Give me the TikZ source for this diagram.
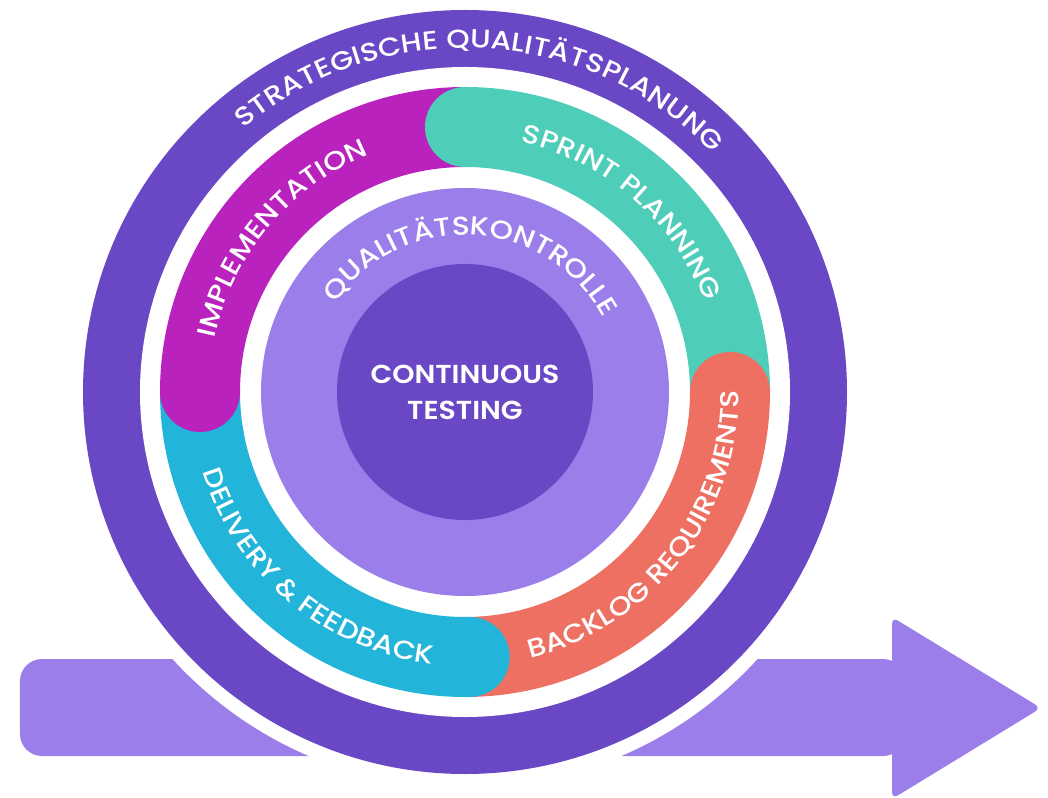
\documentclass[tikz,border=0pt]{standalone}
\usepackage{fontspec}
\setmainfont{Poppins Medium}[FakeStretch=1.14]
\newfontfamily\ctrfont{Poppins SemiBold}[FakeStretch=1.09]
\usetikzlibrary{decorations.text}
\definecolor{ringpurple}{HTML}{6A47C5}
\definecolor{lightpurple}{HTML}{9B7EE9}
\definecolor{magc}{HTML}{B922BD}
\definecolor{tealc}{HTML}{4ECDB8}
\definecolor{bluec}{HTML}{22B4D9}
\definecolor{redc}{HTML}{ED7063}
\newcommand\arcfont{\fontsize{26}{30}\selectfont}
\tikzset{
  arclabel/.style={decorate, decoration={text along path, text align=center, text color=white, text={|\arcfont|#1}}}
}

\begin{document}
\begin{tikzpicture}[x=1pt,y=1pt]
        \useasboundingbox (-465,-405) rectangle (583,392);
        % arrow behind the circle
        \fill[lightpurple, rounded corners=22pt] (-445,-267) rectangle (440,-364);
        \fill[lightpurple, rounded corners=7pt] (427,-225) -- (576,-316) -- (427,-407) -- cycle;
        % rings
        \fill[white] (0,0) circle (396pt);
        \fill[ringpurple] (0,0) circle (382pt);
        \fill[white] (0,0) circle (325pt);
        \foreach \a/\b/\c in {0/90/tealc, 90/180/magc, 180/271/bluec, 271/360/redc} {
                \fill[\c] (\a:305pt) arc (\a:\b:305pt) -- (\b:225pt) arc (\b:\a:225pt) -- cycle;
            }
        \foreach \a/\c in {90/tealc, 180/magc, 271/bluec, 360/redc} {
                \fill[\c] (\a:265pt) circle (40pt);
            }
        \fill[lightpurple] (0,0) circle (204pt);
        \fill[ringpurple] (0,0) circle (128pt);
        % labels
        \path[arclabel=STRATEGISCHE QUALITÄTSPLANUNG] (177:344pt) arc (177:-3:344pt);
        \path[arclabel=IMPLEMENTATION] (230:256pt) arc (230:50:256pt);
        \path[arclabel=SPRINT PLANNING] (139:256pt) arc (139:-41:256pt);
        \path[arclabel=DELIVERY {\&} FEEDBACK] (140:274pt) arc (140:320:274pt);
        \path[arclabel=BACKLOG REQUIREMENTS] (232:274pt) arc (232:412:274pt);
        \path[arclabel=QUALITÄTSKONTROLLE] (177:157pt) arc (177:-3:157pt);
        \node[white, align=center, font=\ctrfont\fontsize{26}{36}\selectfont] (ct) at (0,0) {CONTINUOUS\\TESTING};
    \end{tikzpicture}
\end{document}
